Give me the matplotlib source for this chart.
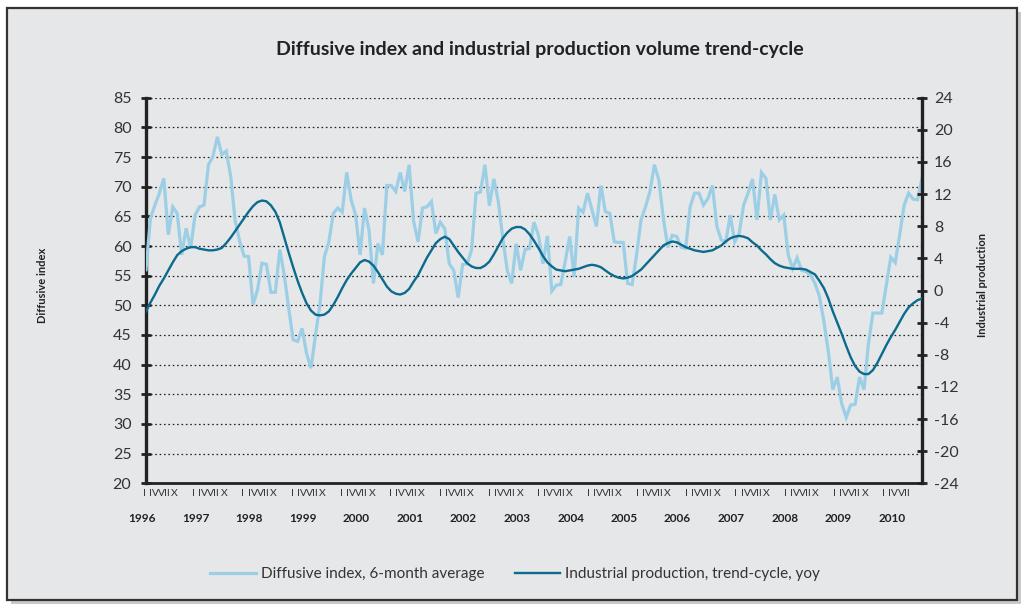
import matplotlib
matplotlib.use("Agg")
import matplotlib.pyplot as plt
from matplotlib.patches import Rectangle
from matplotlib.transforms import blended_transform_factory

plt.rcParams['font.family'] = ['Lato', 'DejaVu Sans']

# ---------------- data (monthly, Jan 1996 - Jul 2010) ----------------
diffusive_index = [
    56.0, 64.7, 66.9, 68.9, 71.4, 61.9, 66.6, 65.5, 58.5, 63.0, 59.6, 65.2,
    66.6, 66.9, 73.7, 75.1, 78.4, 75.4, 76.0, 71.7, 64.2, 60.8, 58.3, 58.2,
    50.1, 52.6, 57.1, 56.9, 52.2, 52.2, 59.4, 55.1, 49.5, 44.2, 43.9, 46.1,
    41.9, 39.4, 45.0, 50.1, 58.2, 60.7, 65.5, 66.4, 65.7, 72.4, 67.8, 65.2,
    58.5, 66.4, 62.7, 53.7, 60.4, 58.5, 70.2, 70.2, 69.2, 72.4, 69.2, 73.7,
    64.2, 60.7, 66.4, 66.6, 67.5, 62.1, 64.0, 62.9, 57.0, 55.9, 51.3, 56.9,
    57.0, 59.3, 68.9, 69.1, 73.7, 66.8, 71.3, 67.5, 61.3, 55.9, 53.7, 60.4,
    55.9, 59.4, 59.6, 64.0, 61.8, 57.0, 61.7, 52.4, 53.4, 53.5, 57.4, 61.6,
    54.8, 66.4, 65.7, 68.9, 66.1, 63.3, 70.2, 65.8, 65.5, 60.7, 60.6, 60.6,
    53.7, 53.5, 58.5, 64.4, 66.6, 69.2, 73.7, 71.1, 64.7, 59.8, 61.8, 61.6,
    59.8, 59.6, 66.6, 68.9, 68.9, 66.9, 68.0, 70.2, 63.3, 61.0, 60.7, 65.2,
    60.7, 62.1, 66.9, 68.9, 71.3, 64.4, 72.4, 71.4, 64.4, 68.7, 64.4, 65.2,
    58.5, 56.2, 58.0, 55.9, 55.7, 55.1, 53.7, 51.5, 47.3, 42.2, 35.8, 37.9,
    33.4, 31.1, 33.2, 33.3, 37.9, 35.8, 43.6, 48.7, 48.7, 48.7, 53.4, 58.1,
    57.2, 61.9, 66.9, 68.9, 67.9, 67.8, 71.4,
]

industrial_production = [
    -2.6, -1.5, -0.5, 0.6, 1.5, 2.5, 3.5, 4.4, 4.9, 5.2, 5.4, 5.4,
    5.2, 5.1, 5.0, 5.0, 5.1, 5.3, 5.9, 6.6, 7.4, 8.2, 9.0, 9.8,
    10.5, 11.0, 11.2, 11.1, 10.6, 9.8, 8.5, 6.6, 4.7, 2.9, 1.2, -0.3,
    -1.6, -2.5, -3.0, -3.1, -3.0, -2.6, -1.8, -0.8, 0.3, 1.3, 2.1, 2.8,
    3.5, 3.8, 3.6, 3.1, 2.3, 1.4, 0.5, -0.1, -0.4, -0.5, -0.3, 0.2,
    1.1, 1.9, 3.0, 4.1, 5.0, 5.9, 6.4, 6.7, 6.4, 5.6, 4.8, 4.1,
    3.4, 3.0, 2.8, 2.8, 3.1, 3.6, 4.5, 5.5, 6.5, 7.2, 7.7, 7.9,
    7.9, 7.6, 7.0, 6.2, 5.3, 4.3, 3.5, 3.0, 2.6, 2.5, 2.4, 2.5,
    2.6, 2.7, 2.9, 3.1, 3.2, 3.1, 2.9, 2.5, 2.1, 1.8, 1.6, 1.5,
    1.6, 1.8, 2.2, 2.6, 3.2, 3.8, 4.4, 5.0, 5.6, 5.9, 6.1, 6.0,
    5.7, 5.4, 5.2, 5.0, 4.9, 4.8, 4.9, 5.0, 5.3, 5.6, 6.1, 6.5,
    6.7, 6.8, 6.7, 6.5, 6.0, 5.6, 5.0, 4.5, 3.9, 3.4, 3.1, 2.9,
    2.8, 2.7, 2.7, 2.7, 2.6, 2.3, 2.0, 1.2, 0.3, -1.0, -2.6, -4.0,
    -5.4, -6.9, -8.3, -9.4, -10.1, -10.4, -10.4, -9.9, -9.0, -7.9, -6.8, -5.8,
    -4.9, -3.9, -2.9, -2.1, -1.6, -1.2, -1.0,
]

years = [str(y) for y in range(1996, 2011)]
month_labels = ["I", "IV", "VII", "X"]
left_ticks = list(range(20, 90, 5))
right_ticks = list(range(-24, 28, 4))

title = "Diffusive index and industrial production volume trend-cycle"
label_left = "Diffusive index"
label_right = "Industrial production"
legend_labels = ["Diffusive index, 6-month average",
                 "Industrial production, trend-cycle, yoy"]

# ---------------- style ----------------
LIGHT = "#9ccfe6"
DARK = "#0b6a8d"
PANEL = "#e6e7e8"
INK = "#222222"

W, H = 1025, 608
fig = plt.figure(figsize=(W / 100, H / 100), dpi=100)
fig.patch.set_facecolor("white")

# shadow + panel frame
fig.patches.append(Rectangle((11 / W, 4 / H), 1010 / W, 592 / H, transform=fig.transFigure,
                             facecolor="#c9c9c9", edgecolor="none", zorder=-3))
fig.patches.append(Rectangle((7 / W, 8 / H), 1010 / W, 592 / H, transform=fig.transFigure,
                             facecolor=PANEL, edgecolor="#333333", linewidth=1.6, zorder=-2))

ax_l, ax_r = 146 / W, 922 / W
ax_b, ax_t = (H - 483.3) / H, (H - 97.7) / H
ax = fig.add_axes([ax_l, ax_b, ax_r - ax_l, ax_t - ax_b])
ax.set_facecolor("none")

x = list(range(len(diffusive_index)))
ax.plot(x, diffusive_index, color=LIGHT, lw=2.3, solid_joinstyle="miter", zorder=3)
ax.set_xlim(0, len(diffusive_index) - 1)
ax.set_ylim(20, 85)
ax.set_yticks(left_ticks)
ax.set_yticklabels([str(t) for t in left_ticks])
ax.tick_params(axis="y", direction="inout", length=7, width=2, color=INK,
               labelsize=11.5, pad=7, labelcolor="#333333")
ax.set_xticks([])
ax.yaxis.grid(True, linestyle=(0, (1.3, 2.2)), color=INK, lw=0.9)
ax.set_axisbelow(True)
for s in ["top", "right"]:
    ax.spines[s].set_visible(False)
ax.spines["left"].set_linewidth(2.4)
ax.spines["left"].set_color(INK)
ax.spines["bottom"].set_linewidth(2)
ax.spines["bottom"].set_color(INK)

ax2 = ax.twinx()
ax2.plot(x, industrial_production, color=DARK, lw=1.7, zorder=4)
ax2.set_ylim(-24, 24)
ax2.set_yticks(right_ticks)
ax2.set_yticklabels([str(t) for t in right_ticks])
ax2.tick_params(axis="y", direction="inout", length=7, width=2, color=INK,
                labelsize=11.5, pad=5, labelcolor="#333333")
for s in ["top", "left", "bottom"]:
    ax2.spines[s].set_visible(False)
ax2.spines["right"].set_linewidth(2.4)
ax2.spines["right"].set_color(INK)

# x-axis labels (month groups and years)
px_per_month = (922 - 146) / (len(diffusive_index) - 1)
trans = blended_transform_factory(ax.transData, fig.transFigure)
group_step = 49.3 / px_per_month
offsets = [0.0, 9.6, 20.2, 30.4]
start = (144.3 - 146) / px_per_month
for g in range(len(years) + 1):
    for k, lab in enumerate(month_labels):
        if g == len(years) and lab == "X":
            continue
        xm = start + g * group_step + offsets[k] / px_per_month
        ax.text(xm, 1 - 494 / H, lab, transform=trans, ha="center", va="center",
                fontsize=7.5, color="#333333", clip_on=False)
for k, yr in enumerate(years):
    xm = 12 * k - 0.8
    ax.text(xm, 1 - 518 / H, yr, transform=trans, ha="center", va="center",
            fontsize=8.5, fontweight="bold", color=INK, clip_on=False)

fig.text(540 / W, 1 - 50 / H, title, ha="center", va="center",
         fontsize=14, fontweight="bold", color=INK)
fig.text(42 / W, 1 - 285 / H, label_left, rotation=90, ha="center", va="center",
         fontsize=8, fontweight="bold", color=INK)
fig.text(982 / W, 1 - 285 / H, label_right, rotation=90, ha="center", va="center",
         fontsize=8, fontweight="bold", color=INK)

h1, = ax.plot([], [], color=LIGHT, lw=2.3)
h2, = ax.plot([], [], color=DARK, lw=1.7)
fig.legend([h1, h2], legend_labels, loc="center", bbox_to_anchor=(515 / W, 1 - 574 / H),
           ncol=2, frameon=False, fontsize=11, handlelength=3.0, handletextpad=0.3,
           columnspacing=2.0, labelcolor="#333333")

fig.savefig("out.png", dpi=100, facecolor=fig.get_facecolor())
